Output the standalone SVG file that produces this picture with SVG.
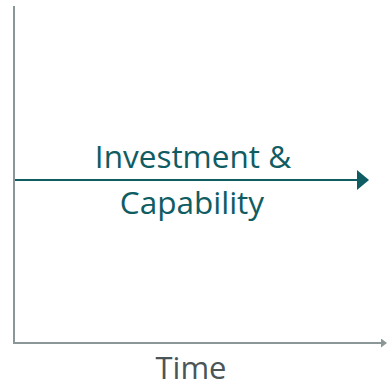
<svg xmlns="http://www.w3.org/2000/svg" width="387" height="383" viewBox="0 0 387 383">
<style>
.axis{stroke:#8b9797;stroke-width:2;fill:none}
.lbl{font-family:"Open Sans",sans-serif;font-size:31.5px;text-anchor:middle}
</style>
<defs>
<marker id="ga" markerWidth="6" markerHeight="9" refX="0" refY="4.5" orient="auto" markerUnits="userSpaceOnUse"><path d="M0,0 L6,4.5 L0,9 Z" fill="#8b9797"/></marker>
<marker id="ta" markerWidth="12" markerHeight="20" refX="0" refY="10" orient="auto" markerUnits="userSpaceOnUse"><path d="M0,0 L12,10 L0,20 Z" fill="#0f5c63"/></marker>
</defs>
<g id="axes">
<line class="axis" x1="14" y1="6" x2="14" y2="344"/>
<line class="axis" x1="13" y1="343" x2="381" y2="343" marker-end="url(#ga)"/>
</g>
<g id="connectors">
<line x1="15" y1="180" x2="357" y2="180" stroke="#0f5c63" stroke-width="2.2" marker-end="url(#ta)"/>
</g>
<g id="investment">
<text class="lbl" x="193" y="168" fill="#0f5c63">Investment &amp;</text>
<text class="lbl" x="192" y="214" fill="#0f5c63">Capability</text>
</g>
<g id="time">
<text class="lbl" x="191" y="379" fill="#4b5558" style="font-size:31px">Time</text>
</g>
</svg>
